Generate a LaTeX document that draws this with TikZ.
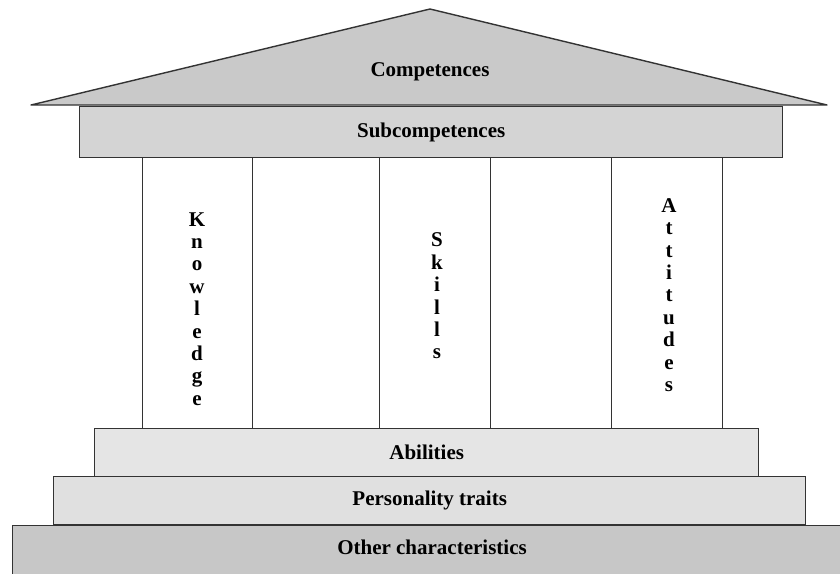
\documentclass[tikz,border=0pt]{standalone}
\usepackage{fontspec}
\setmainfont{Liberation Serif}
\begin{document}
\begin{tikzpicture}[x=1pt,y=-1pt,
  edge/.style={draw=black!80,line width=1.4pt},
  slab/.style={edge,rectangle,inner sep=0pt,anchor=north west},
  lbl/.style={font=\fontsize{21}{22}\selectfont\bfseries,text=black},
  vtext/.style={font=\fontsize{21}{22.4}\selectfont\bfseries,align=center,inner sep=0pt},
  roofgray/.style={fill=black!21},
  subgray/.style={fill=black!17},
  ablgray/.style={fill=black!10},
  pergray/.style={fill=black!12},
  othgray/.style={fill=black!22}]
\useasboundingbox (0,0) rectangle (840,573);
\clip (0,0) rectangle (840,573);
\fill[white] (0,0) rectangle (840,573);

% roof
\coordinate (apex) at (430,9);
\coordinate (eaveL) at (31,105);
\coordinate (eaveR) at (827,105);
\draw[edge,roofgray,line join=round] (eaveL) -- (apex) -- (eaveR) -- cycle;
\node[lbl] (competences) at (430,72) {Competences};

% entablature
\node[slab,subgray,minimum width=703pt,minimum height=51pt] (sub) at (79,106) {};
\node[lbl] (subtxt) at (sub.center) {Subcompetences};

% pillars
\node[slab,fill=white,minimum width=110pt,minimum height=271pt] (colK) at (142,157) {};
\node[slab,fill=white,minimum width=111pt,minimum height=271pt] (colS) at (379,157) {};
\node[slab,fill=white,minimum width=111pt,minimum height=271pt] (colA) at (611,157) {};

\node[vtext] (know) at (197,309) {K\\n\\o\\w\\l\\e\\d\\g\\e};
\node[vtext] (skill) at (437,296) {S\\k\\i\\l\\l\\s};
\node[vtext] (att) at (669,295) {A\\t\\t\\i\\t\\u\\d\\e\\s};

% steps
\node[slab,ablgray,minimum width=664pt,minimum height=48pt] (abl) at (94,428) {};
\node[lbl] (abltxt) at (abl.center) {Abilities};
\node[slab,pergray,minimum width=752pt,minimum height=48pt] (per) at (53,476) {};
\node[lbl] (pertxt) at (per.center) {Personality traits};
\node[slab,othgray,minimum width=840pt,minimum height=60pt] (oth) at (12,525) {};
\node[lbl] (othtxt) at (432,547) {Other characteristics};
\end{tikzpicture}
\end{document}
